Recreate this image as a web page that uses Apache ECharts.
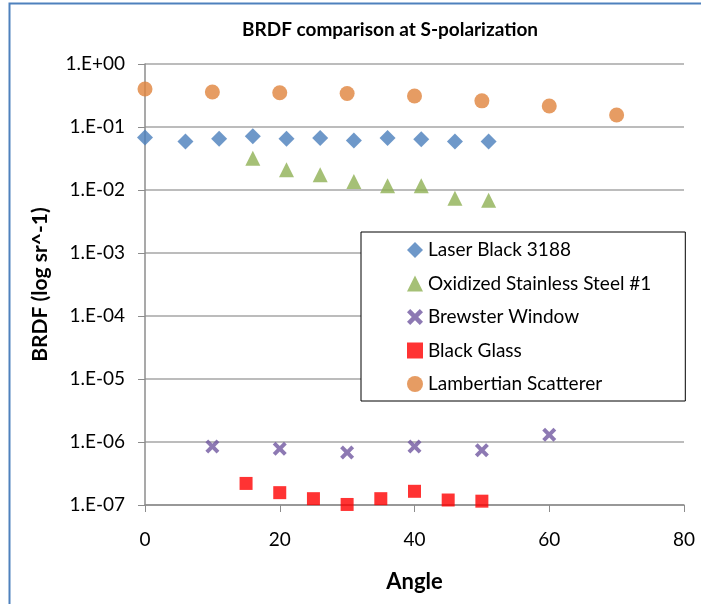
<!DOCTYPE html>
<html lang="en">
<head>
    <meta charset="UTF-8">
    <title>BRDF comparison</title>
    <script src="https://cdn.jsdelivr.net/npm/echarts@6/dist/echarts.min.js"></script>
    <style>
        *{
            margin: 0;
            padding: 0;
        }
        body{
            background: #fff;
        }
        .container{
            width: 701px;
            height: 604px;
        }
    </style>
</head>
<body>
<div class="container"></div>
<script>
    // angle (deg), BRDF value
    let laserBlack = [[0, 0.068], [6, 0.059], [11, 0.065], [16, 0.071], [21, 0.065], [26, 0.067],
        [31, 0.061], [36, 0.067], [41, 0.064], [46, 0.059], [51, 0.059]];
    let oxidizedSteel = [[16, 0.032], [21, 0.021], [26, 0.0174], [31, 0.0136], [36, 0.0117],
        [41, 0.0117], [46, 0.0074], [51, 0.0069]];
    let brewster = [[10, 8.5e-7], [20, 7.8e-7], [30, 6.8e-7], [40, 8.5e-7], [50, 7.4e-7], [60, 1.3e-6]];
    let blackGlass = [[15, 2.2e-7], [20, 1.57e-7], [25, 1.26e-7], [30, 1.02e-7], [35, 1.26e-7],
        [40, 1.65e-7], [45, 1.2e-7], [50, 1.15e-7]];
    let lambertian = [[0, 0.40], [10, 0.36], [20, 0.35], [30, 0.34], [40, 0.31], [50, 0.26],
        [60, 0.215], [70, 0.155]];

    let seriesNames = ['Laser Black 3188', 'Oxidized Stainless Steel #1', 'Brewster Window',
        'Black Glass', 'Lambertian Scatterer'];

    let font = 'Lato, "Open Sans", sans-serif';
    let crossPath = 'path://M0,2 L2,0 L5,3 L8,0 L10,2 L7,5 L10,8 L8,10 L5,7 L2,10 L0,8 L3,5 Z';

    let mycharts = echarts.init(document.querySelector('.container'));

    let options = {
        backgroundColor: '#fff',
        textStyle: {fontFamily: font},
        title: {
            text: 'BRDF comparison at S-polarization',
            left: 385,
            top: 15,
            textAlign: 'center',
            textStyle: {fontSize: 19, fontWeight: 'bold', color: '#000', fontFamily: font}
        },
        graphic: [{
            type: 'rect',
            left: 7,
            top: 1,
            shape: {width: 720, height: 602},
            style: {fill: 'none', stroke: '#4F81BD', lineWidth: 2},
            silent: true
        }],
        grid: {
            left: 145,
            right: 17,
            top: 64,
            bottom: 99
        },
        legend: {
            orient: 'vertical',
            left: 361,
            top: 232,
            data: seriesNames,
            itemWidth: 16,
            itemHeight: 16,
            itemGap: 13.5,
            padding: [8, 34, 7, 46],
            borderColor: '#000',
            borderWidth: 1,
            backgroundColor: '#fff',
            textStyle: {fontSize: 19, lineHeight: 20, color: '#000', fontFamily: font}
        },
        xAxis: {
            type: 'value',
            min: 0,
            max: 80,
            interval: 20,
            name: 'Angle',
            nameLocation: 'middle',
            nameGap: 66,
            nameTextStyle: {fontSize: 22, fontWeight: 'bold', color: '#000'},
            axisLine: {show: true, lineStyle: {color: '#8c8c8c', width: 1.5}},
            axisTick: {show: true, length: 7, lineStyle: {color: '#8c8c8c'}},
            axisLabel: {fontSize: 19, color: '#000', margin: 25},
            splitLine: {show: false}
        },
        yAxis: {
            type: 'log',
            logBase: 10,
            min: 1e-7,
            max: 1,
            name: 'BRDF (log sr^-1)',
            nameLocation: 'middle',
            nameGap: 94,
            nameTextStyle: {fontSize: 21, fontWeight: 'bold', color: '#000'},
            axisLine: {show: true, lineStyle: {color: '#8c8c8c', width: 1.5}},
            axisTick: {show: true, length: 7, lineStyle: {color: '#8c8c8c'}},
            axisLabel: {
                fontSize: 19,
                color: '#000',
                margin: 20,
                formatter: function (v) {
                    let e = Math.round(Math.log10(v));
                    let s = Math.abs(e) < 10 ? '0' + Math.abs(e) : '' + Math.abs(e);
                    return '1.E' + (e < 0 ? '-' : '+') + s;
                }
            },
            splitLine: {show: true, lineStyle: {color: '#a6a6a6', width: 1.5}}
        },
        series: [
            {
                name: seriesNames[0], type: 'scatter', data: laserBlack,
                symbol: 'diamond', symbolSize: 16,
                itemStyle: {color: '#4A7EBB'}
            },
            {
                name: seriesNames[1], type: 'scatter', data: oxidizedSteel,
                symbol: 'triangle', symbolSize: 15,
                itemStyle: {color: '#8EB054'}
            },
            {
                name: seriesNames[2], type: 'scatter', data: brewster,
                symbol: crossPath, symbolSize: 14,
                itemStyle: {color: '#7058A0'}
            },
            {
                name: seriesNames[3], type: 'scatter', data: blackGlass,
                symbol: 'rect', symbolSize: 13,
                itemStyle: {color: '#FF0000'}
            },
            {
                name: seriesNames[4], type: 'scatter', data: lambertian,
                symbol: 'circle', symbolSize: 15,
                itemStyle: {color: '#E0833C'}
            }
        ]
    };

    mycharts.setOption(options);
</script>
</body>
</html>
